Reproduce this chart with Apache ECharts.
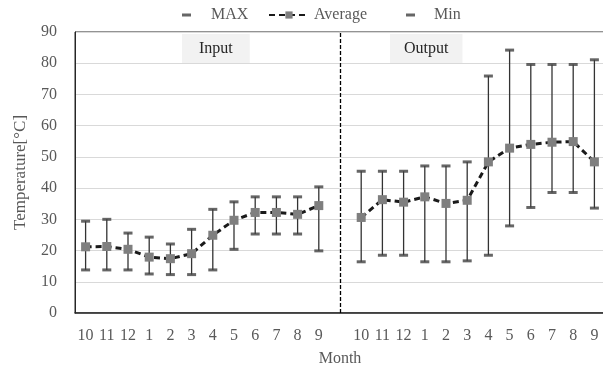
<!DOCTYPE html>
<html>
<head>
<meta charset="utf-8">
<script src="https://cdn.jsdelivr.net/npm/echarts@6/dist/echarts.min.js"></script>
<style>
  html, body { margin: 0; padding: 0; background: #fff; }
  #main { width: 603px; height: 367px; }
</style>
</head>
<body>
<div id="main"></div>
<script>
// 月份（Input 12个月 + 空位 + Output 12个月）
var months = ['10','11','12','1','2','3','4','5','6','7','8','9','',
              '10','11','12','1','2','3','4','5','6','7','8','9'];

var avgData = [21.2, 21.3, 20.4, 17.9, 17.4, 19.0, 24.9, 29.7, 32.2, 32.2, 31.6, 34.4, null,
               30.6, 36.3, 35.5, 37.2, 35.1, 36.1, 48.4, 52.8, 54.0, 54.7, 54.9, 48.4];
var maxData = [29.4, 30.0, 25.6, 24.3, 22.1, 26.8, 33.2, 35.6, 37.2, 37.2, 37.2, 40.4, null,
               45.4, 45.4, 45.4, 47.1, 47.1, 48.4, 75.9, 84.2, 79.6, 79.6, 79.6, 81.1];
var minData = [13.8, 13.8, 13.8, 12.5, 12.3, 12.3, 13.8, 20.4, 25.3, 25.3, 25.3, 19.9, null,
               16.4, 18.5, 18.5, 16.4, 16.4, 16.7, 18.5, 27.9, 33.8, 38.6, 38.6, 33.6];

var yTicks = { min: 0, max: 90, interval: 10 };

var FONT = 'Liberation Serif';
var GRAY = '#595959';

// 误差线数据 [index, min, max]
var rangeData = [];
for (var i = 0; i < months.length; i++) {
    if (minData[i] != null) {
        rangeData.push([i, minData[i], maxData[i]]);
    }
}

var chart = echarts.init(document.getElementById('main'));

var legendText = { color: GRAY, fontFamily: FONT, fontSize: 16 };

var option = {
    animation: false,
    legend: [{
        data: ['MAX'],
        left: 182, top: 7, padding: 0,
        icon: 'rect', itemWidth: 9, itemHeight: 3,
        textStyle: Object.assign({ padding: [0, 0, 0, 15] }, legendText)
    }, {
        data: ['Average'],
        left: 268, top: 7, padding: 0,
        itemWidth: 40, itemHeight: 9,
        textStyle: legendText
    }, {
        data: ['Min'],
        left: 406, top: 7, padding: 0,
        icon: 'rect', itemWidth: 9, itemHeight: 3,
        textStyle: Object.assign({ padding: [0, 0, 0, 14] }, legendText)
    }],
    grid: {
        left: 75, right: -2, top: 32, bottom: 54,
        outerBoundsMode: 'none',
        show: true, borderColor: '#262626', borderWidth: 1
    },
    xAxis: {
        type: 'category',
        data: months,
        name: 'Month',
        nameLocation: 'middle',
        nameGap: 38,
        nameTextStyle: { color: GRAY, fontFamily: FONT, fontSize: 16 },
        axisLine: { lineStyle: { color: '#262626', width: 1.5 } },
        axisTick: { show: false },
        axisLabel: { interval: 0, color: GRAY, fontFamily: FONT, fontSize: 16, margin: 15 },
        splitLine: { show: false }
    },
    yAxis: {
        type: 'value',
        min: yTicks.min, max: yTicks.max, interval: yTicks.interval,
        name: 'Temperature[°C]',
        nameLocation: 'middle',
        nameRotate: 90,
        nameGap: 46,
        nameTextStyle: { color: GRAY, fontFamily: FONT, fontSize: 17 },
        axisLine: { show: true, lineStyle: { color: '#262626', width: 1 } },
        axisTick: { show: false },
        axisLabel: { color: GRAY, fontFamily: FONT, fontSize: 16, margin: 18 },
        splitLine: { lineStyle: { color: '#d9d9d9', width: 1 } }
    },
    graphic: [{
        type: 'text', left: 182, top: 34,
        style: {
            text: 'Input', font: '16px "Liberation Serif"', fill: '#262626',
            backgroundColor: '#f2f2f2', padding: [7, 17, 7, 17]
        }
    }, {
        type: 'text', left: 390, top: 34,
        style: {
            text: 'Output', font: '16px "Liberation Serif"', fill: '#262626',
            backgroundColor: '#f2f2f2', padding: [7, 14, 7, 14]
        }
    }],
    series: [{
        // 误差竖线
        type: 'custom',
        name: 'range',
        data: rangeData,
        z: 2,
        renderItem: function (params, api) {
            var x = api.value(0);
            var lo = api.coord([x, api.value(1)]);
            var hi = api.coord([x, api.value(2)]);
            return {
                type: 'line',
                shape: { x1: lo[0], y1: lo[1], x2: hi[0], y2: hi[1] },
                style: { stroke: '#333333', lineWidth: 1.3 }
            };
        }
    }, {
        name: 'MAX',
        type: 'scatter',
        data: maxData,
        symbol: 'rect',
        symbolSize: [9, 3],
        itemStyle: { color: '#404040' },
        z: 3
    }, {
        name: 'Average',
        type: 'line',
        data: avgData,
        connectNulls: false,
        symbol: 'rect',
        symbolSize: 9,
        itemStyle: { color: '#7f7f7f' },
        lineStyle: { color: '#1a1a1a', width: 3, type: [6, 4] },
        z: 4,
        markLine: {
            silent: true,
            symbol: 'none',
            label: { show: false },
            lineStyle: { color: '#000', width: 1.3, type: [4, 2] },
            data: [{ xAxis: 12 }]
        }
    }, {
        name: 'Min',
        type: 'scatter',
        data: minData,
        symbol: 'rect',
        symbolSize: [9, 3],
        itemStyle: { color: '#404040' },
        z: 3
    }]
};

chart.setOption(option);
</script>
</body>
</html>
